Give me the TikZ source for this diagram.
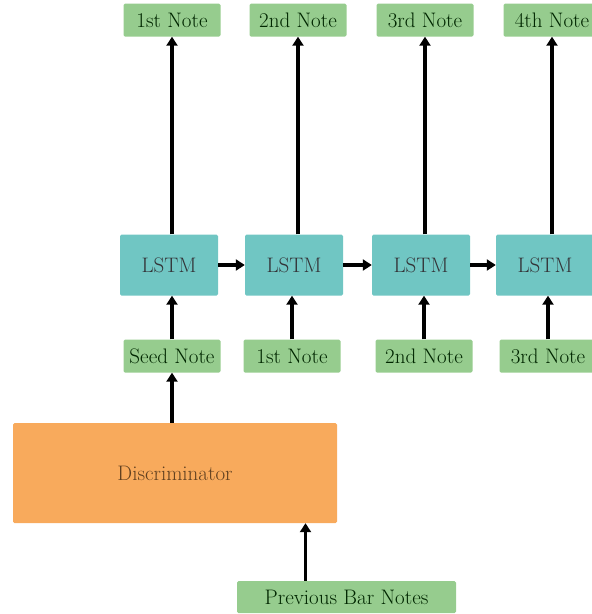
\documentclass[tikz,border=0pt]{standalone}
\usepackage{fontspec}
\usepackage{xcolor}
\usepackage{tikz}
\usetikzlibrary{arrows.meta,positioning}

\definecolor{notegreen}{HTML}{96CC8E}
\definecolor{lstmteal}{HTML}{70C6C3}
\definecolor{discorange}{HTML}{F8AA5C}

\begin{document}
\begin{tikzpicture}[x=1pt,y=-1pt,
  box/.style={rounded corners=1.5pt,inner sep=0pt,align=center,
              font=\fontsize{21}{23}\selectfont},
  note/.style={box,fill=notegreen,text=green!15!black,minimum width=97pt,minimum height=33pt},
  lstm/.style={box,fill=lstmteal,text=cyan!10!black,minimum width=98pt,minimum height=61pt},
  disc/.style={box,fill=discorange,text=brown!50!black,minimum width=324pt,minimum height=100pt},
  ar/.style={-{Triangle[length=9pt,width=11pt]},line width=3.5pt,black}
]
\useasboundingbox (0,0) rectangle (592,614);
% outputs on top
\node[note] (o1) at (172,20) {1st Note};
\node[note] (o2) at (298,20) {2nd Note};
\node[note] (o3) at (425,20) {3rd Note};
\node[note] (o4) at (552,20) {4th Note};
% lstm chain
\node[lstm] (l1) at (169,265) {LSTM};
\node[lstm] (l2) at (294,265) {LSTM};
\node[lstm] (l3) at (421,265) {LSTM};
\node[lstm] (l4) at (545,265) {LSTM};
% inputs below
\node[note] (i1) at (172,356) {Seed Note};
\node[note] (i2) at (292,356) {1st Note};
\node[note] (i3) at (424,356) {2nd Note};
\node[note] (i4) at (548,356) {3rd Note};
\foreach \i in {1,...,4}{
  \draw[ar] (l\i.north -| o\i) -- (o\i.south);
  \draw[ar] (i\i.north) -- (i\i.north |- l\i.south);
}
\draw[ar] (l1) -- (l2);
\draw[ar] (l2) -- (l3);
\draw[ar] (l3) -- (l4);
% discriminator feeds the seed
\node[disc] (d) at (175,473) {Discriminator};
\node[note,minimum width=219pt,minimum height=32pt] (pb) at (346.5,597) {Previous Bar Notes};
\draw[ar] (d.north -| i1) -- (i1.south);
\draw[ar] ([xshift=-41pt]pb.north) -- ([xshift=-41pt]pb.north |- d.south);
\end{tikzpicture}
\end{document}
